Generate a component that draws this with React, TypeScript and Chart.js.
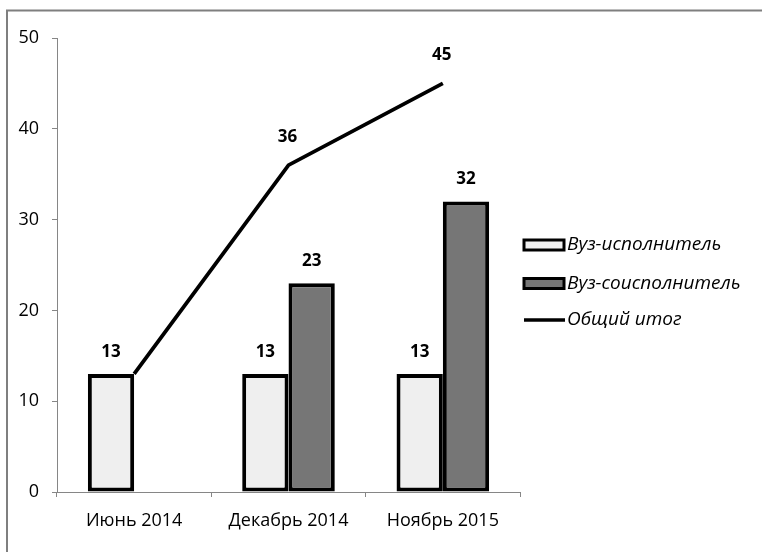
import React, { useEffect, useRef } from "react";
import { Chart, registerables } from "chart.js";

Chart.register(...registerables);

const categories = ["Июнь 2014", "Декабрь 2014", "Ноябрь 2015"];
const seriesNames = ["Вуз-исполнитель", "Вуз-соисполнитель", "Общий итог"];
const performerValues: (number | null)[] = [13, 13, 13];
const coPerformerValues: (number | null)[] = [null, 23, 32];
const totalValues: (number | null)[] = [13, 36, 45];
const showTotalLabel = [false, true, true];
const yTicks = { min: 0, max: 50, step: 10 };

const FONT = "'Open Sans', 'Noto Sans', sans-serif";

const framePlugin = {
  id: "frame",
  beforeDraw(chart: any) {
    const ctx = chart.ctx;
    ctx.save();
    ctx.fillStyle = "#ffffff";
    ctx.fillRect(0, 0, chart.width, chart.height);
    ctx.strokeStyle = "#7f7f7f";
    ctx.lineWidth = 2;
    ctx.beginPath();
    ctx.moveTo(7, chart.height);
    ctx.lineTo(7, 10.5);
    ctx.lineTo(chart.width, 10.5);
    ctx.stroke();
    ctx.restore();
  },
};

const labelPlugin = {
  id: "valueLabels",
  afterDatasetsDraw(chart: any) {
    const ctx = chart.ctx;
    ctx.save();
    ctx.font = `bold 17px ${FONT}`;
    ctx.fillStyle = "#000";
    ctx.textAlign = "center";
    ctx.textBaseline = "middle";
    chart.data.datasets.forEach((ds: any, di: number) => {
      const meta = chart.getDatasetMeta(di);
      meta.data.forEach((el: any, i: number) => {
        const v = ds.data[i];
        if (v === null || v === undefined) return;
        if (ds.type === "line") {
          if (!showTotalLabel[i]) return;
          ctx.fillText(String(v), el.x - 1, el.y - 28);
        } else {
          ctx.fillText(String(v), el.x, el.y - 22);
        }
      });
    });
    ctx.restore();
  },
};

const legendPlugin = {
  id: "customLegend",
  afterDraw(chart: any) {
    const ctx = chart.ctx;
    ctx.save();
    const x0 = 524;
    const ys = [245, 283.5, 320];
    chart.data.datasets.forEach((ds: any, i: number) => {
      const y = ys[i];
      if (ds.type === "line") {
        ctx.strokeStyle = "#000";
        ctx.lineWidth = 3.5;
        ctx.beginPath();
        ctx.moveTo(x0, y);
        ctx.lineTo(x0 + 41, y);
        ctx.stroke();
      } else {
        ctx.fillStyle = ds.backgroundColor;
        ctx.fillRect(x0, y - 5, 40, 10);
        ctx.strokeStyle = "#000";
        ctx.lineWidth = 3;
        ctx.strokeRect(x0, y - 5, 40, 10);
      }
      ctx.fillStyle = "#000";
      ctx.font = `italic 19px ${FONT}`;
      ctx.textAlign = "left";
      ctx.textBaseline = "middle";
      ctx.fillText(ds.label, 567, y);
    });
    ctx.restore();
  },
};

export default function App() {
  const ref = useRef<HTMLCanvasElement>(null);
  useEffect(() => {
    if (!ref.current) return;
    const chart = new Chart(ref.current, {
      type: "bar",
      data: {
        labels: categories,
        datasets: [
          {
            type: "bar",
            label: seriesNames[0],
            data: performerValues,
            backgroundColor: "#efefef",
            borderColor: "#000",
            borderWidth: 4,
            borderSkipped: false,
            categoryPercentage: 0.6,
            barPercentage: 1,
            order: 1,
          } as any,
          {
            type: "bar",
            label: seriesNames[1],
            data: coPerformerValues,
            backgroundColor: "#767676",
            borderColor: "#000",
            borderWidth: 4,
            borderSkipped: false,
            categoryPercentage: 0.6,
            barPercentage: 1,
            order: 1,
          } as any,
          {
            type: "line",
            label: seriesNames[2],
            data: totalValues,
            borderColor: "#000",
            borderWidth: 3.8,
            pointRadius: 0,
            tension: 0,
            fill: false,
            order: 0,
          } as any,
        ],
      },
      options: {
        animation: false,
        responsive: false,
        layout: { padding: { left: 0, right: 242, top: 38, bottom: 0 } },
        plugins: {
          legend: { display: false },
          tooltip: { enabled: false },
        },
        scales: {
          x: {
            offset: true,
            grid: {
              offset: true,
              drawOnChartArea: false,
              drawTicks: true,
              tickLength: 5,
              color: "#868686",
            },
            border: { color: "#868686", width: 1 },
            ticks: {
              color: "#000",
              font: { family: FONT, size: 18 },
              padding: 13,
            },
            afterFit(scale: any) {
              scale.height = 60;
            },
          },
          y: {
            min: yTicks.min,
            max: yTicks.max,
            grid: {
              drawOnChartArea: false,
              drawTicks: true,
              tickLength: 5,
              color: "#868686",
            },
            border: { color: "#868686", width: 1 },
            ticks: {
              stepSize: yTicks.step,
              color: "#000",
              font: { family: FONT, size: 18 },
              padding: 13,
            },
            afterFit(scale: any) {
              scale.width = 57;
            },
          },
        },
      },
      plugins: [framePlugin, labelPlugin, legendPlugin],
    });
    return () => chart.destroy();
  }, []);
  return (
    <div style={{ position: "fixed", left: 0, top: 0, width: 762, height: 552, background: "#fff" }}>
      <canvas ref={ref} width={762} height={552} style={{ display: "block" }} />
    </div>
  );
}
